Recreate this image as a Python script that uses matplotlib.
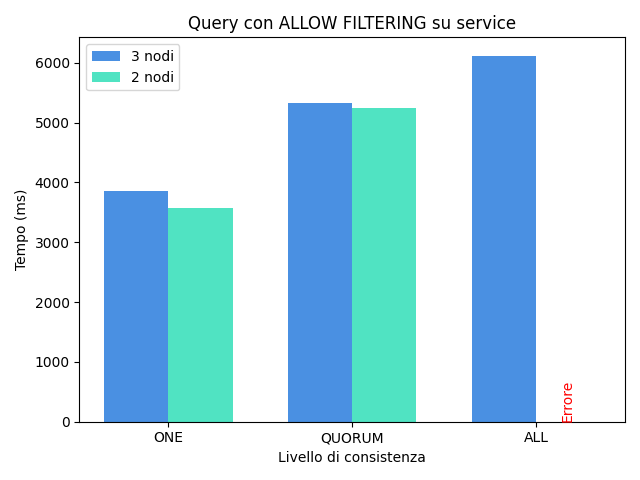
import numpy as np
import matplotlib
matplotlib.use("Agg")
import matplotlib.pyplot as plt

# --------------------- Data --------------------- #
levels = ["ONE", "QUORUM", "ALL"]
tempo_3_nodi = [3855, 5330, 6120]
tempo_2_nodi = [3570, 5245, 0]   # ALL con 2 nodi -> errore

x = np.arange(len(levels))
w = 0.35

fig, ax = plt.subplots(figsize=(6.4, 4.8), dpi=100)
ax.bar(x - w/2, tempo_3_nodi, w, color="#4A90E2", label="3 nodi")
ax.bar(x + w/2, tempo_2_nodi, w, color="#50E3C2", label="2 nodi")
ax.text(x[2] + w/2, 0, "Errore", color="red", rotation=90, ha="center", va="bottom")

ax.set_xticks(x)
ax.set_xticklabels(levels)
ax.set_xlabel("Livello di consistenza")
ax.set_ylabel("Tempo (ms)")
ax.set_title("Query con ALLOW FILTERING su service")
ax.legend(loc="upper left")
plt.tight_layout()
plt.savefig("out.png", dpi=100)
